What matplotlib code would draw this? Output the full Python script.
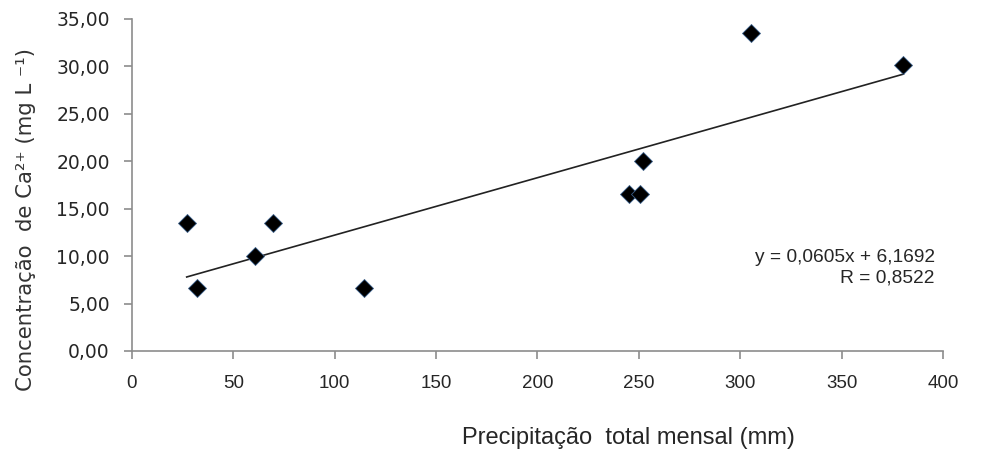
import numpy as np
import matplotlib.pyplot as plt
from matplotlib.ticker import FuncFormatter

# monthly rainfall (mm) and Ca2+ concentration (mg/L)
precip = [27, 32, 60.5, 69.5, 114.5, 245, 250.5, 252, 305.5, 380.5]
calcio = [13.45, 6.65, 10.0, 13.45, 6.65, 16.6, 16.6, 20.0, 33.5, 30.1]

# linear fit as reported
slope = 0.0605
intercept = 6.1692
r_value = 0.8522

x_ticks = [0, 50, 100, 150, 200, 250, 300, 350, 400]
y_ticks = [0, 5, 10, 15, 20, 25, 30, 35]

sans = ['Liberation Sans', 'DejaVu Sans']

fig = plt.figure(figsize=(10.05, 4.5), dpi=100)
ax = fig.add_axes([0.1313, 0.22, 0.807, 0.7378])

ax.plot(precip, calcio, linestyle='none', marker='D', markersize=9,
        color='black', markeredgecolor='#3a5f8a', markeredgewidth=0.6, zorder=3)

xf = np.array([min(precip), max(precip)])
ax.plot(xf, slope * xf + intercept, color='#222222', linewidth=1.2, zorder=2)

ax.set_xlim(0, 400)
ax.set_ylim(0, 35)
ax.set_xticks(x_ticks)
ax.set_yticks(y_ticks)
ax.yaxis.set_major_formatter(FuncFormatter(lambda v, p: f"{v:.2f}".replace('.', ',')))

for s in ['top', 'right']:
    ax.spines[s].set_visible(False)
for s in ['left', 'bottom']:
    ax.spines[s].set_color('#8c8c8c')
    ax.spines[s].set_linewidth(1.2)

ax.tick_params(axis='both', direction='out', length=6, color='#8c8c8c', width=1.2)
ax.tick_params(axis='y', labelsize=13.5, labelcolor='#262626', pad=10)
ax.tick_params(axis='x', labelsize=13.5, labelcolor='#262626', pad=11)
for lab in ax.get_xticklabels():
    lab.set_family(sans)

ax.set_ylabel('Concentração  de Ca²⁺ (mg L ⁻¹)', fontsize=15.3, color='#333333')
ax.yaxis.set_label_coords(-0.118, 0.395)
ax.set_xlabel('Precipitação  total mensal (mm)', fontsize=17,
              family=sans, color='#262626')
ax.xaxis.set_label_coords(0.612, -0.228)

eq = f"y = {slope:.4f}x + {intercept:.4f}".replace('.', ',')
rr = f"R = {r_value:.4f}".replace('.', ',')
ax.text(396, 8.75, eq + "\n" + rr, ha='right', va='center', multialignment='right',
        fontsize=13.8, family=sans, color='#262626', linespacing=1.3)

fig.savefig('out.png', dpi=100)
